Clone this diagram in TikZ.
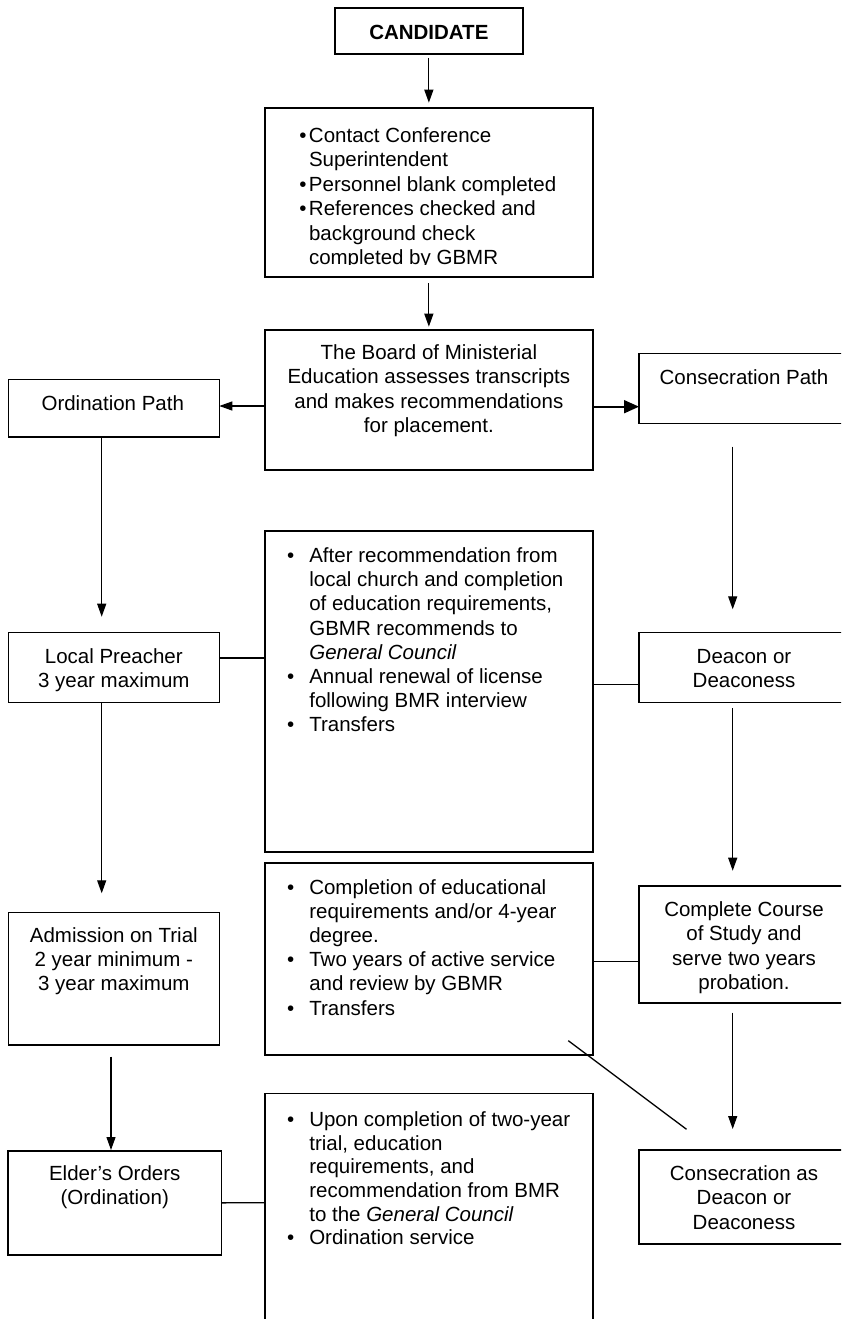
\documentclass[tikz,border=0pt]{standalone}
\usepackage{fontspec}
\setmainfont{Liberation Sans}
\usetikzlibrary{arrows.meta}
\newcommand\bulA{\makebox[9.6pt][l]{•}}
\newcommand\indA{\hspace*{9.6pt}}
\newcommand\bulB{\makebox[22.2pt][l]{•}}
\newcommand\indB{\hspace*{22.2pt}}
\begin{document}
\begin{tikzpicture}[x=1pt,y=-1pt,
  box/.style={draw=black,line width=1.6pt,inner sep=0pt,outer sep=0pt,rectangle},
  txt/.style={inner sep=0pt,outer sep=0pt,anchor=north,align=center,font=\fontsize{20.5}{24.2}\selectfont},
  lst/.style={inner sep=0pt,outer sep=0pt,anchor=north west,align=left,font=\fontsize{20.5}{24.2}\selectfont},
  arr/.style={line width=1.2pt,-{Triangle[length=13pt,width=9pt]}},
  arrbig/.style={line width=1.8pt,-{Triangle[length=15pt,width=13pt]}},
  conn/.style={line width=1.3pt}]
\useasboundingbox (0,0) rectangle (841,1319);
\clip (0,0) rectangle (841,1319);
\fill[white] (0,0) rectangle (841,1319);

% boxes
\node[box,minimum width=187.7pt,minimum height=46pt] (cand) at (428.85,31.3) {};
\node[box,minimum width=327.7pt,minimum height=168.4pt] (b1) at (428.85,192.5) {};
\node[box,minimum width=327.7pt,minimum height=140pt] (board) at (428.85,400) {};
\node[box,minimum width=211pt,minimum height=57.4pt] (ord) at (113.8,408) {};
\node[box,minimum width=210pt,minimum height=70pt] (cons) at (744,388.3) {};
\node[box,minimum width=327.7pt,minimum height=321pt] (b2) at (428.85,691.5) {};
\node[box,minimum width=211pt,minimum height=70pt] (lp) at (113.8,667.3) {};
\node[box,minimum width=210pt,minimum height=70pt] (dea) at (744,667.3) {};
\node[box,minimum width=327.7pt,minimum height=192.3pt] (b3) at (428.85,958.85) {};
\node[box,minimum width=211pt,minimum height=132.7pt] (adm) at (113.8,978.65) {};
\node[box,minimum width=210pt,minimum height=117pt] (comp) at (744,944.2) {};
\node[box,minimum width=327.7pt,minimum height=246.7pt] (b4) at (428.85,1216.65) {};
\node[box,minimum width=213.5pt,minimum height=104.3pt] (eld) at (114.75,1202.85) {};
\node[box,minimum width=210pt,minimum height=94pt] (csd) at (744,1197) {};

% texts
\node[txt,font=\fontsize{20.5}{24.2}\selectfont\bfseries] (tcand) at ([yshift=-14.4pt]cand.north) {\strut CANDIDATE};
\begin{scope}
\clip (265,108.3) rectangle (592.7,264.8);
\node[lst,font=\fontsize{20.5}{24.5}\selectfont] (tb1) at ([xshift=34.4pt,yshift=-16.95pt]b1.north west)
  {\bulA\strut Contact Conference\\ \indA Superintendent\\ \bulA Personnel blank completed\\ \bulA References checked and\\ \indA background check\\ \indA completed by GBMR};
\end{scope}
\node[txt] (tboard) at ([yshift=-12.8pt]board.north) {\strut The Board of Ministerial\\Education assesses transcripts\\and makes recommendations\\for placement.};
\node[txt] (tord) at ([xshift=-1pt,yshift=-13.8pt]ord.north) {\strut Ordination Path};
\node[txt] (tcons) at ([yshift=-13.8pt]cons.north) {\strut Consecration Path};
\node[lst] (tb2) at ([xshift=22.1pt,yshift=-14.5pt]b2.north west)
  {\bulB\strut After recommendation from\\ \indB local church and completion\\ \indB of education requirements,\\ \indB GBMR recommends to\\ \indB\textit{General Council}\\ \bulB Annual renewal of license\\ \indB following BMR interview\\ \bulB Transfers};
\node[txt] (tlp) at ([yshift=-14.2pt]lp.north) {\strut Local Preacher\\3 year maximum};
\node[txt] (tdea) at ([yshift=-14.2pt]dea.north) {\strut Deacon or\\Deaconess};
\node[lst] (tb3) at ([xshift=22.1pt,yshift=-14.5pt]b3.north west)
  {\bulB\strut Completion of educational\\ \indB requirements and/or 4-year\\ \indB degree.\\ \bulB Two years of active service\\ \indB and review by GBMR\\ \bulB Transfers};
\node[txt] (tadm) at ([yshift=-13.2pt]adm.north) {\strut Admission on Trial\\2 year minimum -\\3 year maximum};
\node[txt] (tcomp) at ([yshift=-14.1pt]comp.north) {\strut Complete Course\\of Study and\\serve two years\\probation.};
\node[lst,font=\fontsize{20.5}{23.6}\selectfont] (tb4) at ([xshift=22.1pt,yshift=-16.9pt]b4.north west)
  {\bulB\strut Upon completion of two-year\\ \indB trial, education\\ \indB requirements, and\\ \indB recommendation from BMR\\ \indB to the \textit{General Council}\\ \bulB Ordination service};
\node[txt] (teld) at ([yshift=-13.1pt]eld.north) {\strut Elder’s Orders\\(Ordination)};
\node[txt] (tcsd) at ([yshift=-13.8pt]csd.north) {\strut Consecration as\\Deacon or\\Deaconess};

% connectors
\draw[arr] ([yshift=-3.7pt]cand.south) -- ([yshift=5.6pt]b1.north);
\draw[arr] ([yshift=-6.3pt]b1.south) -- ([yshift=3.3pt]board.north);
\draw[arr] ([yshift=-6pt]board.west) -- ([yshift=2pt]ord.east);
\draw[arrbig] ([yshift=-6.7pt]board.east) -- ([yshift=-18.4pt]cons.west);
\draw[arr] ([xshift=-12.1pt]ord.south) -- ([xshift=-12.1pt,yshift=15.6pt]lp.north);
\draw[arr] ([xshift=-11.3pt,yshift=-23.4pt]cons.south) -- ([xshift=-11.3pt,yshift=23pt]dea.north);
\draw[conn] ([yshift=9.3pt]lp.east) -- ([yshift=33.5pt]b2.west);
\draw[conn] ([yshift=7pt]b2.east) -- ([yshift=-17.2pt]dea.west);
\draw[arr] ([xshift=-12.1pt]lp.south) -- ([xshift=-12.1pt,yshift=19pt]adm.north);
\draw[arr] ([xshift=-11.3pt,yshift=-6pt]dea.south) -- ([xshift=-11.3pt,yshift=15pt]comp.north);
\draw[conn] ([yshift=-2.65pt]b3.east) -- ([yshift=-17.3pt]comp.west);
\draw[arr] ([xshift=-2.8pt,yshift=-11.7pt]adm.south) -- ([xshift=-3.75pt,yshift=0.7pt]eld.north);
\draw[arr] ([xshift=-11.3pt,yshift=-10pt]comp.south) -- ([xshift=-11.3pt,yshift=21pt]csd.north);
\coordinate (d1) at (568.3,1040.7);
\coordinate (d2) at (686.5,1129.3);
\draw[conn] (d1) -- (d2);
\draw[conn] (eld.east) -- ([yshift=13.95pt]b4.west);
\end{tikzpicture}
\end{document}
